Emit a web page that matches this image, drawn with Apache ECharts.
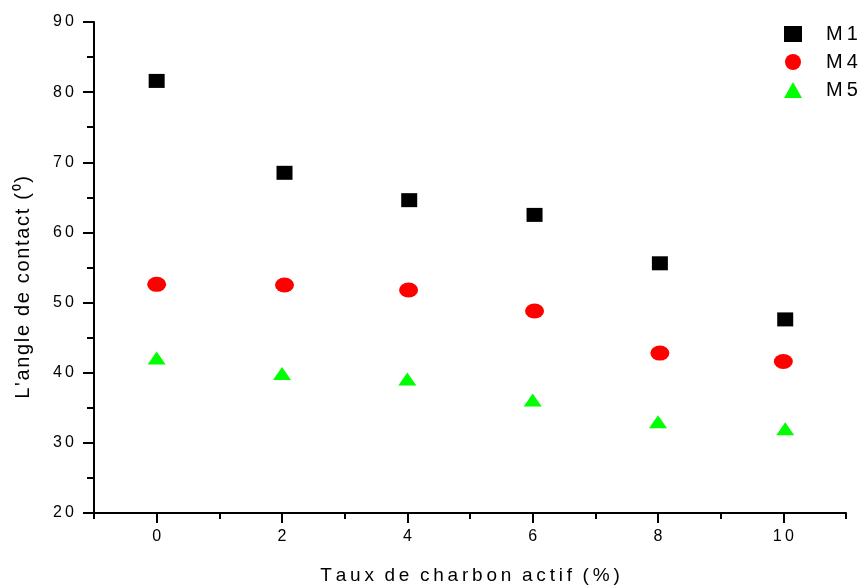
<!DOCTYPE html>
<html>
<head>
<meta charset="utf-8">
<script src="https://cdn.jsdelivr.net/npm/echarts@6/dist/echarts.min.js"></script>
<style>html,body{margin:0;padding:0;background:#fff}#c{width:863px;height:586px}</style>
</head>
<body>
<div id="c"></div>
<script>
const xTickLabels = [0, 2, 4, 6, 8, 10];
const yTickLabels = [20, 30, 40, 50, 60, 70, 80, 90];
const m1 = [[0, 81.6], [2.04, 68.5], [4.03, 64.6], [6.03, 62.5], [8.03, 55.6], [10.03, 47.6]];
const m4 = [[0, 52.6], [2.04, 52.5], [4.02, 51.8], [6.03, 48.8], [8.03, 42.8], [10.0, 41.6]];
const m5 = [[0, 42.1], [2.0, 39.9], [4.0, 39.1], [6.0, 36.1], [8.0, 33.0], [10.03, 32.0]];
const seriesNames = ['M1', 'M4', 'M5'];

const FONT = 'Liberation Sans, Arial, sans-serif';
const spaced = s => String(s).split('').join('\u2009');

const chart = echarts.init(document.getElementById('c'), null, {renderer: 'canvas'});
const G1 = {left: 94, right: 17, top: 22, bottom: 73, containLabel: false, outerBoundsMode: 'none'};
const unit = (863 - G1.left - G1.right) / 12;
const G2 = {left: G1.left + unit, right: G1.right + unit, top: 22, bottom: 73, containLabel: false, outerBoundsMode: 'none'};

chart.setOption({
  animation: false,
  backgroundColor: '#fff',
  textStyle: {fontFamily: FONT},
  grid: [G1, G2],
  legend: {
    orient: 'vertical',
    left: 779,
    top: 19,
    itemWidth: 18,
    itemHeight: 16,
    itemGap: 8,
    data: seriesNames,
    formatter: n => spaced(n),
    textStyle: {fontSize: 20, color: '#000', fontFamily: FONT, padding: [0, 0, 0, 19]}
  },
  xAxis: [
    {
      type: 'value', gridIndex: 0, min: -1, max: 11, interval: 1,
      axisLine: {show: true, onZero: false, lineStyle: {color: '#000', width: 2}},
      axisTick: {show: true, inside: false, length: 6, lineStyle: {color: '#000', width: 2}},
      axisLabel: {show: false},
      splitLine: {show: false},
      name: spaced('Taux de charbon actif (%)').replace(/\u2009 \u2009/g, '  '),
      nameLocation: 'middle', nameGap: 53,
      nameTextStyle: {fontSize: 19, color: '#000', fontFamily: FONT}
    },
    {
      type: 'value', gridIndex: 1, min: 0, max: 10, interval: 2,
      axisLine: {show: false, onZero: false},
      axisTick: {show: true, inside: false, length: 10, lineStyle: {color: '#000', width: 2}},
      axisLabel: {show: true, margin: 16, fontSize: 16, color: '#000', fontFamily: FONT,
        formatter: v => xTickLabels.includes(v) ? spaced(v) : ''},
      splitLine: {show: false}
    }
  ],
  yAxis: [
    {
      type: 'value', gridIndex: 0, min: 20, max: 90, interval: 10,
      axisLine: {show: true, onZero: false, lineStyle: {color: '#000', width: 2}},
      axisTick: {show: true, inside: false, length: 11, lineStyle: {color: '#000', width: 2}},
      minorTick: {show: true, splitNumber: 2, length: 7, lineStyle: {color: '#000', width: 2}},
      axisLabel: {show: true, margin: 20, fontSize: 16, color: '#000', fontFamily: FONT,
        formatter: v => yTickLabels.includes(v) ? spaced(v) : ''},
      splitLine: {show: false},
      name: "L'angle de contact (\u2070)".split('').join('\u200A'),
      nameLocation: 'middle', nameGap: 61,
      nameTextStyle: {fontSize: 20, color: '#000', fontFamily: FONT, padding: [0, 40, 0, 0]}
    },
    {
      type: 'value', gridIndex: 1, min: 20, max: 90, interval: 10, show: false,
      axisLine: {onZero: false}
    }
  ],
  series: [
    {name: 'M1', type: 'scatter', xAxisIndex: 0, yAxisIndex: 0, data: m1,
     symbol: 'rect', symbolSize: [16, 14], itemStyle: {color: '#000000', opacity: 1}},
    {name: 'M4', type: 'scatter', xAxisIndex: 0, yAxisIndex: 0, data: m4,
     symbol: 'circle', symbolSize: [19, 15], itemStyle: {color: '#ff0000', opacity: 1}},
    {name: 'M5', type: 'scatter', xAxisIndex: 0, yAxisIndex: 0, data: m5,
     symbol: 'triangle', symbolSize: [18, 13], itemStyle: {color: '#00ff00', opacity: 1}}
  ]
});
</script>
</body>
</html>
